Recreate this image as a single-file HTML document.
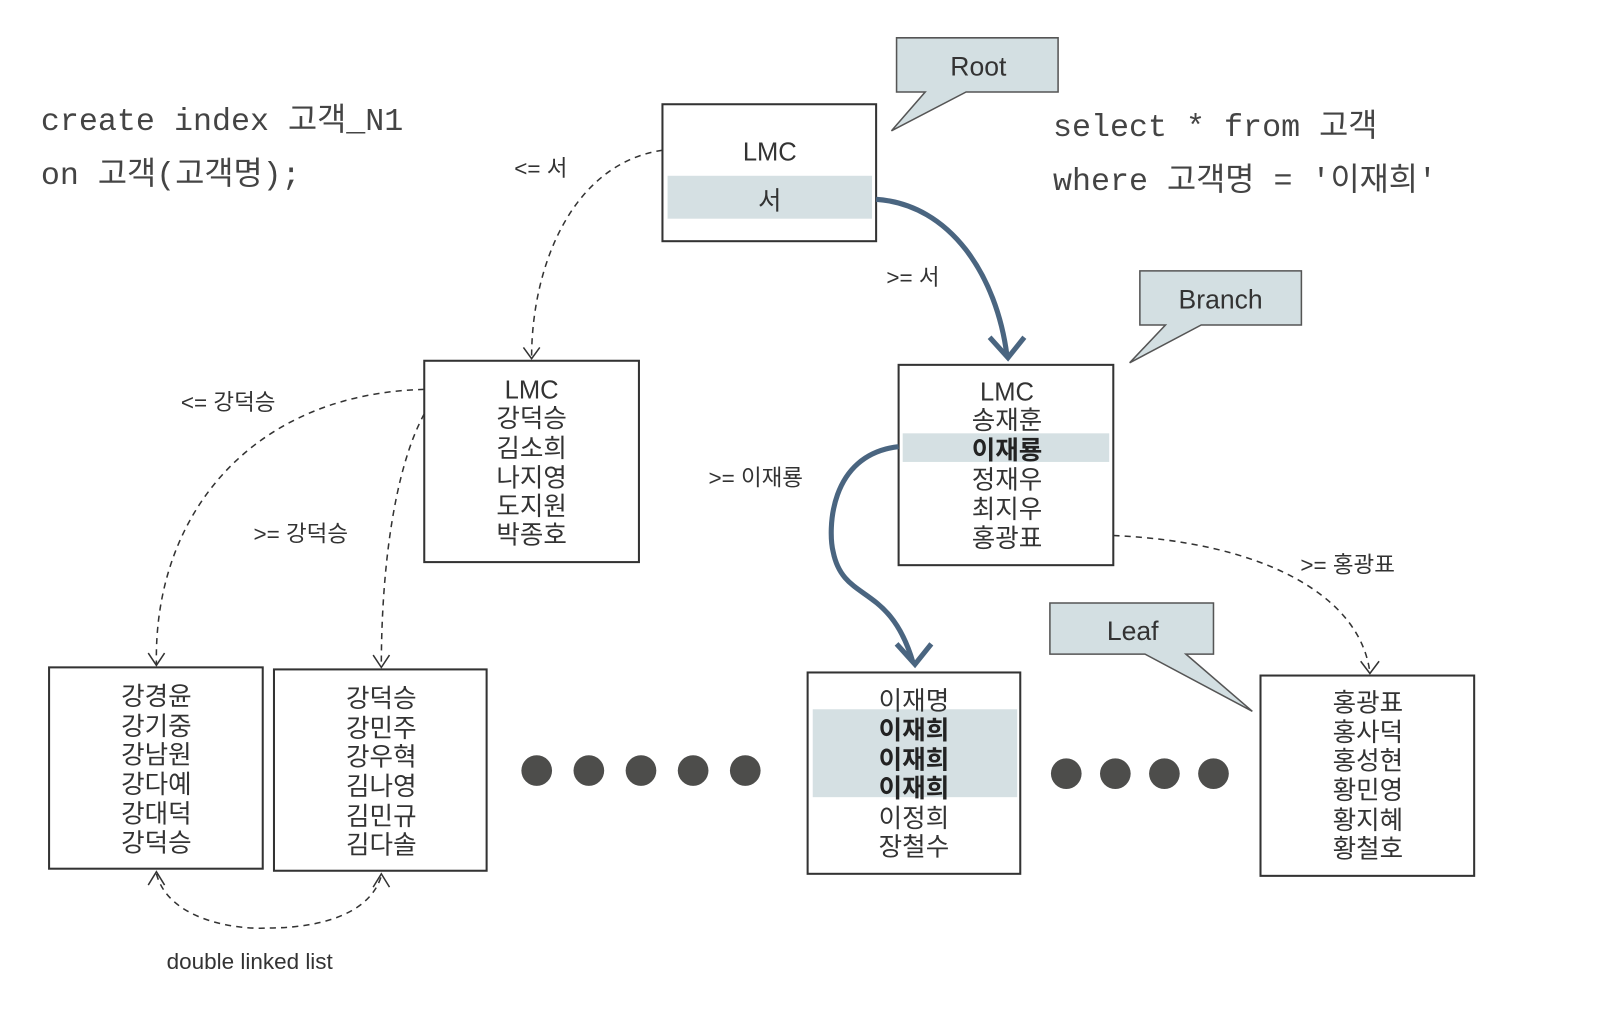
<!DOCTYPE html>
<html><head><meta charset="utf-8"><style>
html,body{margin:0;padding:0;background:#fff;}
svg{display:block;}
text{font-family:"Liberation Sans","Noto Sans CJK KR",sans-serif;fill:#333;}
.m{font-family:"Liberation Mono","Noto Sans CJK KR",monospace;font-size:31px;fill:#444;}
.n{font-size:25px;text-anchor:middle;}
.b{font-weight:bold;fill:#222;}
.l{font-size:22px;}
.d{fill:none;stroke:#333;stroke-width:1.5;stroke-dasharray:6,5;}
.a{fill:none;stroke:#333;stroke-width:1.5;}
.t{fill:none;stroke:#4a6580;stroke-width:5;}
.bx{fill:#fff;stroke:#333;stroke-width:2;}
.hl{fill:#d5e0e3;}
.co{fill:#d3dfe2;stroke:#555;stroke-width:1.5;}
</style></head><body>
<svg width="1604" height="1022" viewBox="0 0 1569 1000" preserveAspectRatio="none">
<text class="m" x="40" y="127">create index 고객_N1</text>
<text class="m" x="40" y="180">on 고객(고객명);</text>
<text class="m" x="1030" y="133">select * from 고객</text>
<text class="m" x="1030" y="186">where  고객명 = '이재희'</text>

<!-- callouts -->
<path class="co" d="M877,37 H1035 V90 H945 L872,128 L905,90 H877 Z"/>
<text x="957" y="74" class="n" style="font-size:26px">Root</text>
<path class="co" d="M1115,265 H1273 V318 H1175 L1105,355 L1140,318 H1115 Z"/>
<text x="1194" y="302" class="n" style="font-size:26px">Branch</text>
<path class="co" d="M1027,590 H1187 V640 H1160 L1225,696 L1120,640 H1027 Z"/>
<text x="1108" y="626" class="n" style="font-size:26px">Leaf</text>

<!-- root -->
<rect class="bx" x="648" y="102" width="209" height="134"/>
<rect class="hl" x="653" y="172" width="200" height="42"/>
<text class="n" x="753" y="157">LMC</text>
<text class="n" x="753" y="205">서</text>

<!-- branches -->
<rect class="bx" x="415" y="353" width="210" height="197"/>
<g class="n">
<text class="n" x="520" y="390">LMC</text>
<text class="n" x="520" y="418">강덕승</text>
<text class="n" x="520" y="447">김소희</text>
<text class="n" x="520" y="476">나지영</text>
<text class="n" x="520" y="504">도지원</text>
<text class="n" x="520" y="532">박종호</text>
</g>
<rect class="bx" x="879" y="357" width="210" height="196"/>
<rect class="hl" x="883" y="424" width="202" height="28"/>
<text class="n" x="985" y="392">LMC</text>
<text class="n" x="985" y="420">송재훈</text>
<text class="n b" x="985" y="449">이재룡</text>
<text class="n" x="985" y="478">정재우</text>
<text class="n" x="985" y="507">최지우</text>
<text class="n" x="985" y="535">홍광표</text>

<!-- leaves -->
<rect class="bx" x="48" y="653" width="209" height="197"/>
<text class="n" x="153" y="690">강경윤</text>
<text class="n" x="153" y="719">강기중</text>
<text class="n" x="153" y="747">강남원</text>
<text class="n" x="153" y="776">강다예</text>
<text class="n" x="153" y="805">강대덕</text>
<text class="n" x="153" y="833">강덕승</text>
<rect class="bx" x="268" y="655" width="208" height="197"/>
<text class="n" x="373" y="692">강덕승</text>
<text class="n" x="373" y="721">강민주</text>
<text class="n" x="373" y="749">강우혁</text>
<text class="n" x="373" y="778">김나영</text>
<text class="n" x="373" y="807">김민규</text>
<text class="n" x="373" y="835">김다솔</text>
<rect class="bx" x="790" y="658" width="208" height="197"/>
<rect class="hl" x="795" y="694" width="200" height="86"/>
<text class="n" x="894" y="694">이재명</text>
<text class="n b" x="894" y="723">이재희</text>
<text class="n b" x="894" y="752">이재희</text>
<text class="n b" x="894" y="780">이재희</text>
<text class="n" x="894" y="809">이정희</text>
<text class="n" x="894" y="837">장철수</text>
<rect class="bx" x="1233" y="661" width="209" height="196"/>
<text class="n" x="1338" y="696">홍광표</text>
<text class="n" x="1338" y="725">홍사덕</text>
<text class="n" x="1338" y="753">홍성현</text>
<text class="n" x="1338" y="782">황민영</text>
<text class="n" x="1338" y="811">황지혜</text>
<text class="n" x="1338" y="839">황철호</text>

<!-- dots -->
<g fill="#4d4d4b">
<circle cx="525" cy="754" r="15"/><circle cx="576" cy="754" r="15"/><circle cx="627" cy="754" r="15"/><circle cx="678" cy="754" r="15"/><circle cx="729" cy="754" r="15"/>
<circle cx="1043" cy="757" r="15"/><circle cx="1091" cy="757" r="15"/><circle cx="1139" cy="757" r="15"/><circle cx="1187" cy="757" r="15"/>
</g>

<!-- dashed connectors -->
<path class="d" d="M648,147 C560,160 520,260 520,350"/>
<path class="a" d="M512,340 L520,351 L528,340"/>
<text class="l" x="503" y="172">&lt;= 서</text>
<path class="d" d="M415,381 C250,385 150,500 153,650"/>
<path class="a" d="M145,639 L153,651 L161,639"/>
<text class="l" x="177" y="401">&lt;= 강덕승</text>
<path class="d" d="M415,405 C385,460 373,560 373,652"/>
<path class="a" d="M365,641 L373,653 L381,641"/>
<text class="l" x="248" y="530">&gt;= 강덕승</text>
<path class="d" d="M1089,524 C1230,530 1330,580 1340,658"/>
<path class="a" d="M1331,647 L1340,659 L1349,647"/>
<text class="l" x="1272" y="560">&gt;= 홍광표</text>
<path class="d" d="M153,855 C165,900 230,910 263,908 C300,908 360,900 373,857"/>
<path class="a" d="M145,866 L153,853 L161,866"/>
<path class="a" d="M365,868 L373,855 L381,868"/>
<text class="l" x="163" y="948">double linked list</text>

<!-- thick connectors -->
<path class="t" d="M857,195 C930,200 975,270 985,348"/>
<path class="t" d="M968,330 L986,350 L1002,330"/>
<text class="l" x="867" y="279">&gt;= 서</text>
<path class="t" d="M879,437 C810,445 810,520 815,540 C825,590 870,570 893,648"/>
<path class="t" d="M877,630 L895,650 L911,630"/>
<text class="l" x="693" y="475">&gt;= 이재룡</text>
</svg>
</body></html>
